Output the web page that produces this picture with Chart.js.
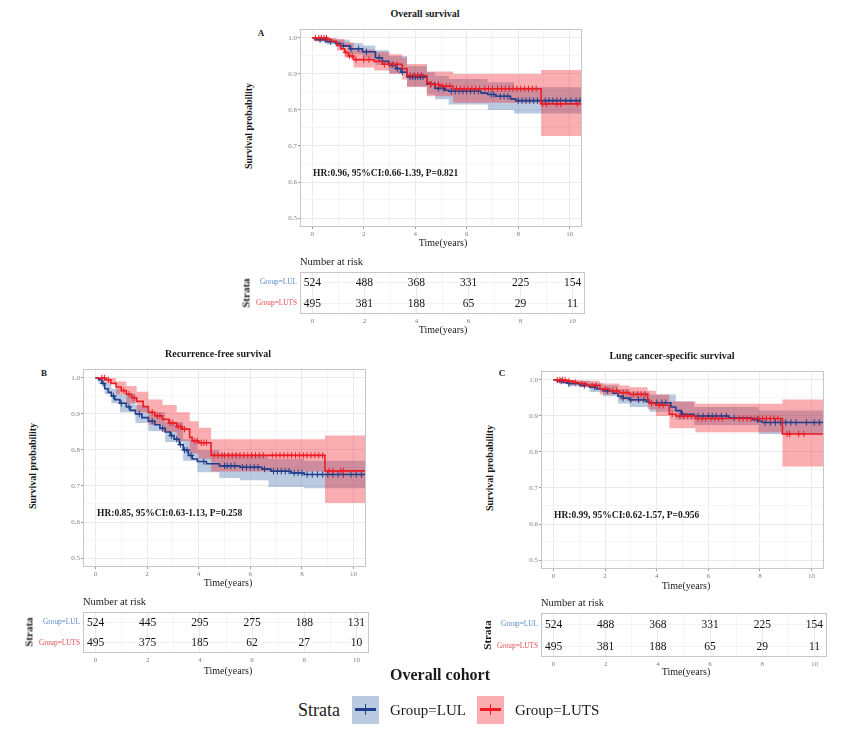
<!DOCTYPE html>
<html>
<head>
<meta charset="utf-8">
<script src="https://cdn.jsdelivr.net/npm/chart.js@4.4.0/dist/chart.umd.min.js"></script>
<style>
  body { margin: 0; width: 843px; height: 744px; background: #fff; position: relative; overflow: hidden;
         font-family: "Liberation Serif", "DejaVu Serif", serif; color: #1a1a1a; }
  canvas { position: absolute; z-index: 1; }
  .t { position: absolute; white-space: nowrap; line-height: 1; z-index: 5; }
  .c { transform: translate(-50%, -50%); }
  .l { transform: translateY(-50%); }
  .r { transform: translate(-50%, -50%) rotate(-90deg); }
  .b { font-weight: bold; }
  .key { position: absolute; width: 27px; height: 28px; z-index: 5; }
  .key .h { position: absolute; left: 3px; right: 3px; top: 12px; height: 3px; }
  .key .v { position: absolute; left: 13px; width: 1px; top: 8px; height: 11px; }
</style>
</head>
<body>

<!-- Panel A -->
<div class="t c b" style="left:425px;top:14px;font-size:10px">Overall survival</div>
<div class="t c b" style="left:261px;top:33px;font-size:9px">A</div>
<div class="t r b" style="left:249px;top:126px;font-size:10px">Survival probability</div>
<div class="t l b" style="left:313px;top:174px;font-size:9.5px">HR:0.96, 95%CI:0.66-1.39, P=0.821</div>
<div class="t c" style="left:443px;top:243px;font-size:10px">Time(years)</div>
<div class="t l" style="left:300px;top:262px;font-size:10.5px">Number at risk</div>
<div class="t r b" style="left:246px;top:293px;font-size:11px">Strata</div>
<div class="t c" style="left:443px;top:330px;font-size:10px">Time(years)</div>

<!-- Panel B -->
<div class="t c b" style="left:218px;top:354px;font-size:10px">Recurrence-free survival</div>
<div class="t c b" style="left:44px;top:373px;font-size:9px">B</div>
<div class="t r b" style="left:33px;top:466px;font-size:10px">Survival probability</div>
<div class="t l b" style="left:97px;top:514px;font-size:9.5px">HR:0.85, 95%CI:0.63-1.13, P=0.258</div>
<div class="t c" style="left:228px;top:583px;font-size:10px">Time(years)</div>
<div class="t l" style="left:83px;top:602px;font-size:10.5px">Number at risk</div>
<div class="t r b" style="left:29px;top:632px;font-size:11px">Strata</div>
<div class="t c" style="left:228px;top:671px;font-size:10px">Time(years)</div>

<!-- Panel C -->
<div class="t c b" style="left:672px;top:356px;font-size:10px">Lung cancer-specific survival</div>
<div class="t c b" style="left:502px;top:373px;font-size:9px">C</div>
<div class="t r b" style="left:490px;top:468px;font-size:10px">Survival probability</div>
<div class="t l b" style="left:554px;top:516px;font-size:9.5px">HR:0.99, 95%CI:0.62-1.57, P=0.956</div>
<div class="t c" style="left:686px;top:586px;font-size:10px">Time(years)</div>
<div class="t l" style="left:541px;top:603px;font-size:10.5px">Number at risk</div>
<div class="t r b" style="left:487px;top:635px;font-size:11px">Strata</div>
<div class="t c" style="left:686px;top:672px;font-size:10px">Time(years)</div>

<!-- Cohort title and shared legend -->
<div class="t c b" style="left:440px;top:675px;font-size:16px">Overall cohort</div>
<div class="t l" style="left:298px;top:710px;font-size:18px">Strata</div>
<div class="key" style="left:352px;top:696px;background:rgba(40,90,160,0.32)">
  <div class="h" style="background:#1F3F8C"></div><div class="v" style="background:#1F3F8C"></div>
</div>
<div class="t l" style="left:390px;top:710px;font-size:15px">Group=LUL</div>
<div class="key" style="left:477px;top:696px;background:rgba(240,30,40,0.36)">
  <div class="h" style="background:#ED1C24"></div><div class="v" style="background:#ED1C24"></div>
</div>
<div class="t l" style="left:515px;top:710px;font-size:15px">Group=LUTS</div>

<canvas id="kmA"></canvas><canvas id="riskA"></canvas>
<canvas id="kmB"></canvas><canvas id="riskB"></canvas>
<canvas id="kmC"></canvas><canvas id="riskC"></canvas>

<script>
// ---- shared axis values ----
const xTicks = [0, 2, 4, 6, 8, 10];
const yTicks = [0.5, 0.6, 0.7, 0.8, 0.9, 1.0];
const riskTimes = [0, 2, 4, 6, 8, 10];
const strata = ["Group=LUL", "Group=LUTS"];

// ---- A: overall survival ----
const osLulT = [0, 0.1, 0.55, 0.9, 1.1, 1.45, 1.95, 2.45, 2.72, 2.97, 3.25, 3.45, 3.68, 4.45, 4.77, 5.15, 5.3, 6.56, 6.82, 7.13, 7.7, 7.9, 10.45];
const osLulS = [1, 0.995, 0.99, 0.985, 0.978, 0.97, 0.962, 0.945, 0.935, 0.925, 0.915, 0.905, 0.892, 0.872, 0.86, 0.855, 0.852, 0.847, 0.843, 0.838, 0.831, 0.826, 0.826];
const osLutsT = [0, 0.6, 0.75, 0.95, 1.1, 1.25, 1.4, 1.6, 2.4, 2.72, 3.49, 3.68, 4.45, 4.6, 4.96, 5.47, 8.89, 10.45];
const osLutsS = [1, 0.995, 0.99, 0.98, 0.97, 0.96, 0.95, 0.94, 0.935, 0.927, 0.915, 0.896, 0.876, 0.871, 0.866, 0.859, 0.817, 0.817];
const osLulBandT = [0, 0.1, 0.55, 0.9, 1.45, 1.95, 2.45, 2.97, 3.68, 4.45, 4.77, 5.3, 6.82, 7.84, 10.48];
const osLulUp = [1, 1, 0.998, 0.995, 0.986, 0.979, 0.966, 0.95, 0.922, 0.905, 0.895, 0.886, 0.877, 0.863, 0.863];
const osLulLo = [1, 0.99, 0.982, 0.975, 0.955, 0.945, 0.925, 0.902, 0.865, 0.843, 0.83, 0.815, 0.8, 0.79, 0.79];
const osLutsBandT = [0, 0.6, 0.95, 1.25, 1.6, 2.4, 3.0, 3.49, 3.68, 4.45, 5.47, 8.89, 10.48];
const osLutsUp = [1, 1, 0.997, 0.988, 0.968, 0.962, 0.955, 0.945, 0.928, 0.907, 0.9, 0.911, 0.911];
const osLutsLo = [1, 0.988, 0.965, 0.945, 0.918, 0.91, 0.9, 0.885, 0.864, 0.838, 0.82, 0.728, 0.728];
const osLulCens = [0.3, 0.5, 0.7, 1.2, 1.5, 1.8, 2.1, 2.6, 3.1, 3.3, 3.5, 3.8, 3.9, 4.0, 4.1, 4.2, 4.3, 4.6, 4.9, 5.1, 5.4, 5.55, 5.7, 5.85, 6.0, 6.15, 6.3, 6.45, 6.95, 7.05, 7.3, 7.45, 7.6, 8.0, 8.15, 8.3, 8.45, 8.6, 8.75, 8.9, 9.05, 9.2, 9.35, 9.5, 9.65, 9.85, 10.05, 10.25, 10.4];
const osLutsCens = [0.12, 0.25, 0.35, 0.45, 0.55, 1.3, 1.45, 1.55, 1.7, 2.0, 2.2, 2.8, 3.0, 3.15, 3.3, 3.8, 3.95, 4.1, 4.25, 4.6, 4.75, 4.9, 5.05, 5.2, 5.35, 5.6, 5.75, 5.9, 6.05, 6.2, 6.35, 6.5, 6.7, 6.85, 7.0, 7.2, 7.35, 7.5, 7.65, 7.8, 7.95, 8.1, 8.25, 8.4, 8.55, 8.7, 8.95, 9.1, 9.5, 9.65, 10.3];
const osRiskLul = [524, 488, 368, 331, 225, 154];
const osRiskLuts = [495, 381, 188, 65, 29, 11];

// ---- B: recurrence-free survival ----
const rfsLulT = [0, 0.12, 0.25, 0.36, 0.5, 0.62, 0.75, 0.95, 1.2, 1.35, 1.55, 1.8, 2.05, 2.3, 2.5, 2.7, 2.9, 3.05, 3.25, 3.4, 3.6, 3.75, 3.95, 4.3, 4.8, 5.6, 6.45, 6.8, 7.57, 8.08, 10.45];
const rfsLulS = [1, 0.995, 0.985, 0.97, 0.96, 0.95, 0.94, 0.93, 0.92, 0.91, 0.9, 0.89, 0.88, 0.87, 0.86, 0.85, 0.84, 0.83, 0.815, 0.8, 0.785, 0.775, 0.768, 0.762, 0.756, 0.752, 0.747, 0.741, 0.736, 0.732, 0.732];
const rfsLutsT = [0, 0.4, 0.6, 0.8, 1.0, 1.2, 1.4, 1.6, 1.85, 2.05, 2.3, 2.6, 2.85, 3.15, 3.35, 3.65, 3.75, 4.0, 4.48, 8.89, 10.45];
const rfsLutsS = [1, 0.995, 0.985, 0.975, 0.965, 0.955, 0.945, 0.935, 0.92, 0.905, 0.895, 0.885, 0.875, 0.865, 0.858, 0.835, 0.825, 0.82, 0.785, 0.742, 0.742];
const rfsLulBandT = [0, 0.12, 0.36, 0.62, 0.95, 1.55, 2.05, 2.7, 3.4, 3.95, 4.8, 5.6, 6.7, 8.08, 10.48];
const rfsLulUp = [1, 1, 0.985, 0.97, 0.955, 0.925, 0.905, 0.878, 0.83, 0.8, 0.79, 0.785, 0.775, 0.77, 0.77];
const rfsLulLo = [1, 0.985, 0.955, 0.93, 0.905, 0.875, 0.853, 0.822, 0.77, 0.738, 0.722, 0.716, 0.697, 0.694, 0.694];
const rfsLutsBandT = [0, 0.4, 0.8, 1.2, 1.6, 2.05, 2.6, 3.15, 3.65, 4.0, 4.48, 8.89, 10.48];
const rfsLutsUp = [1, 1, 0.99, 0.978, 0.962, 0.94, 0.925, 0.905, 0.88, 0.862, 0.83, 0.84, 0.84];
const rfsLutsLo = [1, 0.985, 0.955, 0.93, 0.905, 0.87, 0.85, 0.825, 0.79, 0.776, 0.74, 0.653, 0.653];
const rfsLulCens = [0.3, 0.7, 1.0, 1.3, 1.7, 2.2, 2.6, 2.95, 3.15, 3.3, 3.45, 3.55, 3.7, 4.2, 5.0, 5.1, 5.25, 5.4, 5.7, 5.85, 6.0, 6.15, 6.3, 6.55, 6.9, 7.05, 7.2, 7.35, 7.5, 7.7, 7.85, 8.0, 8.2, 8.4, 8.6, 8.8, 9.0, 9.2, 9.4, 9.6, 9.9, 10.1, 10.3];
const rfsLutsCens = [0.25, 0.35, 0.5, 1.1, 1.3, 1.5, 2.2, 2.4, 2.5, 2.9, 3.0, 3.2, 3.3, 3.45, 3.85, 3.95, 4.1, 4.2, 4.3, 4.6, 4.75, 4.9, 5.0, 5.15, 5.3, 5.45, 5.6, 5.75, 5.9, 6.05, 6.2, 6.35, 6.5, 6.85, 7.0, 7.15, 7.3, 7.45, 7.6, 7.75, 7.9, 8.05, 8.2, 8.35, 8.5, 8.65, 8.8, 9.05, 9.2, 9.5, 9.6];
const rfsRiskLul = [524, 445, 295, 275, 188, 131];
const rfsRiskLuts = [495, 375, 185, 62, 27, 10];

// ---- C: lung cancer-specific survival ----
const lcssLulT = [0, 0.15, 0.38, 0.6, 1.03, 1.4, 1.67, 1.92, 2.3, 2.5, 2.7, 2.95, 3.6, 3.72, 4.55, 4.74, 4.95, 5.45, 6.8, 7.7, 7.95, 8.1, 10.45];
const lcssLulS = [1, 0.997, 0.993, 0.99, 0.985, 0.98, 0.975, 0.97, 0.963, 0.955, 0.95, 0.945, 0.94, 0.937, 0.925, 0.915, 0.905, 0.9, 0.895, 0.89, 0.885, 0.882, 0.882];
const lcssLutsT = [0, 0.5, 0.77, 1.0, 1.28, 1.8, 2.18, 2.56, 2.95, 3.65, 3.72, 3.97, 4.49, 4.74, 5.5, 8.87, 10.45];
const lcssLutsS = [1, 0.997, 0.993, 0.99, 0.985, 0.975, 0.97, 0.965, 0.96, 0.945, 0.935, 0.93, 0.905, 0.9, 0.893, 0.85, 0.85];
const lcssLulBandT = [0, 0.15, 0.6, 1.4, 1.92, 2.5, 2.95, 3.72, 4.74, 5.45, 7.95, 10.48];
const lcssLulUp = [1, 1, 0.998, 0.992, 0.985, 0.975, 0.968, 0.96, 0.94, 0.925, 0.915, 0.915];
const lcssLulLo = [1, 0.99, 0.982, 0.967, 0.955, 0.935, 0.925, 0.912, 0.89, 0.875, 0.85, 0.85];
const lcssLutsBandT = [0, 0.5, 1.0, 1.8, 2.56, 2.95, 3.65, 3.97, 4.49, 5.5, 8.87, 10.48];
const lcssLutsUp = [1, 1, 0.998, 0.99, 0.985, 0.98, 0.97, 0.96, 0.94, 0.934, 0.946, 0.946];
const lcssLutsLo = [1, 0.99, 0.98, 0.96, 0.945, 0.94, 0.918, 0.9, 0.866, 0.855, 0.76, 0.76];
const lcssLulCens = [0.3, 0.6, 1.2, 1.6, 2.1, 2.7, 3.0, 3.3, 3.5, 4.0, 4.2, 4.35, 5.0, 5.6, 5.8, 6.0, 6.15, 6.3, 6.5, 6.7, 7.0, 7.9, 8.2, 8.4, 8.6, 8.8, 9.0, 9.2, 9.4, 9.8, 10.1, 10.3];
const lcssLutsCens = [0.15, 0.25, 0.35, 0.45, 0.6, 0.85, 1.1, 1.5, 1.65, 2.0, 2.3, 2.45, 2.7, 2.85, 3.1, 3.25, 3.4, 3.55, 3.8, 4.1, 4.25, 4.6, 4.9, 5.05, 5.2, 5.35, 5.6, 5.75, 5.9, 6.1, 6.25, 6.4, 6.55, 7.2, 7.35, 7.5, 7.65, 7.8, 7.95, 8.1, 8.25, 8.4, 8.55, 8.7, 9.05, 9.15, 9.5, 9.7];
const lcssRiskLul = [524, 488, 368, 331, 225, 154];
const lcssRiskLuts = [495, 381, 188, 65, 29, 11];

// ---- styles ----
const serif = "'Liberation Serif', 'DejaVu Serif', serif";
const blueLine = "#1F3F8C", redLine = "#ED1C24";
const blueFill = "rgba(40,90,160,0.32)", redFill = "rgba(240,30,40,0.36)";
const X_MIN = -0.48, X_MAX = 10.48, Y_MIN = 0.475, Y_MAX = 1.025;

function pts(ts, ys) { return ts.map((t, i) => ({ x: t, y: ys[i] })); }

// survival value of a step curve at time x (for placing censor marks)
function survAt(ts, ss, x) {
  let v = ss[0];
  for (let i = 0; i < ts.length; i++) if (ts[i] <= x) v = ss[i];
  return v;
}

const isMajorX = v => xTicks.includes(v);
const isMajorY = v => yTicks.some(m => Math.abs(m - v) < 1e-6);

const boxPlugin = {
  id: "panelBox",
  afterDatasetsDraw(chart) {
    const a = chart.chartArea, c = chart.ctx;
    c.save();
    c.strokeStyle = "#C6C6C6";
    c.lineWidth = 1;
    c.strokeRect(Math.round(a.left) + 0.5, Math.round(a.top) + 0.5,
                 Math.round(a.right - a.left) - 1, Math.round(a.bottom - a.top) - 1);
    c.restore();
  }
};

function xAxis(h, withTicks) {
  return {
    type: "linear", min: X_MIN, max: X_MAX,
    afterBuildTicks: s => { s.ticks = [0, 1, 2, 3, 4, 5, 6, 7, 8, 9, 10].map(v => ({ value: v })); },
    ticks: { callback: v => isMajorX(v) ? String(v) : "", autoSkip: false, maxRotation: 0,
             font: { family: serif, size: 7 }, color: "#808080", padding: withTicks ? 1 : 3 },
    grid: { color: c => isMajorX(c.tick.value) ? "#EAEAEA" : "#F5F5F5",
            drawTicks: withTicks, tickLength: 2,
            tickColor: c => isMajorX(c.tick.value) ? "#9A9A9A" : "rgba(0,0,0,0)" },
    border: { display: false },
    afterFit: s => { s.height = h; s.paddingLeft = 0; s.paddingRight = 0; }
  };
}

function place(id, left, top, w, h) {
  const cv = document.getElementById(id);
  cv.width = w; cv.height = h;
  cv.style.left = left + "px"; cv.style.top = top + "px";
  cv.style.width = w + "px"; cv.style.height = h + "px";
  return cv;
}

function kmChart(id, box, lul, luts) {
  const yW = 32, xH = 16;
  const cv = place(id, box.L - yW, box.T - 2, yW + (box.R - box.L) + 2, 2 + (box.B - box.T) + xH);
  const line = (data, color) => ({ data, showLine: true, stepped: true, borderColor: color,
                                   borderWidth: 1.6, pointRadius: 0, fill: false });
  const cens = (c, color) => ({ data: c.cens.map(t => ({ x: t, y: survAt(c.t, c.s, t) })),
                               showLine: false, pointStyle: "cross", pointRadius: 3.2,
                               borderColor: color, borderWidth: 1, backgroundColor: color });
  const band = (data, fill, color) => ({ data, showLine: true, stepped: true, borderWidth: 0,
                                         pointRadius: 0, fill, backgroundColor: color, borderColor: "rgba(0,0,0,0)" });
  new Chart(cv, {
    type: "scatter",
    data: {
      datasets: [
        cens(luts, redLine),
        line(pts(luts.t, luts.s), redLine),
        cens(lul, blueLine),
        line(pts(lul.t, lul.s), blueLine),
        band(pts(luts.bt, luts.up), "+1", redFill),
        band(pts(luts.bt, luts.lo), false, redFill),
        band(pts(lul.bt, lul.up), "+1", blueFill),
        band(pts(lul.bt, lul.lo), false, blueFill)
      ]
    },
    options: {
      responsive: false, animation: false, events: [],
      layout: { padding: { top: 2, right: 2 } },
      plugins: { legend: { display: false }, tooltip: { enabled: false },
                 filler: { drawTime: "beforeDatasetsDraw" } },
      scales: {
        x: xAxis(xH, true),
        y: {
          type: "linear", min: Y_MIN, max: Y_MAX,
          afterBuildTicks: s => {
            const t = [];
            for (let k = 0; k <= 10; k++) t.push({ value: +(0.5 + k * 0.05).toFixed(2) });
            s.ticks = t;
          },
          ticks: { callback: v => isMajorY(v) ? v.toFixed(1) : "", autoSkip: false,
                   font: { family: serif, size: 7 }, color: "#808080", padding: 1 },
          grid: { color: c => isMajorY(c.tick.value) ? "#EAEAEA" : "#F5F5F5",
                  tickLength: 2,
                  tickColor: c => isMajorY(c.tick.value) ? "#9A9A9A" : "rgba(0,0,0,0)" },
          border: { display: false },
          afterFit: s => { s.width = yW; s.paddingTop = 0; s.paddingBottom = 0; }
        }
      }
    },
    plugins: [boxPlugin]
  });
}

const riskText = {
  id: "riskText",
  afterDatasetsDraw(chart) {
    const c = chart.ctx;
    c.save();
    c.font = "11.5px " + serif;
    c.fillStyle = "#111";
    c.textAlign = "center";
    c.textBaseline = "middle";
    chart.data.datasets.forEach((ds, di) => {
      chart.getDatasetMeta(di).data.forEach((el, i) => c.fillText(String(ds.data[i].n), el.x, el.y + 0.5));
    });
    c.restore();
  }
};

function riskChart(id, box, lulN, lutsN) {
  const yW = 62, xH = 14;
  const cv = place(id, box.L - yW, box.T - 2, yW + (box.R - box.L) + 2, 2 + (box.B - box.T) + xH);
  const row = (ns, k) => ({ data: riskTimes.map((t, i) => ({ x: t, y: strata[k], n: ns[i] })),
                            pointRadius: 0, showLine: false });
  new Chart(cv, {
    type: "scatter",
    data: { datasets: [row(lulN, 0), row(lutsN, 1)] },
    options: {
      responsive: false, animation: false, events: [],
      layout: { padding: { top: 2, right: 2 } },
      plugins: { legend: { display: false }, tooltip: { enabled: false } },
      scales: {
        x: xAxis(xH, false),
        y: {
          type: "category", labels: strata, offset: true,
          ticks: { font: { family: serif, size: 7.3 }, padding: 3,
                   color: c => c.index === 0 ? "#5A8AC6" : "#E84A4F" },
          grid: { offset: false, color: "#F2F2F2", drawTicks: false },
          border: { display: false },
          afterFit: s => { s.width = yW; s.paddingTop = 0; s.paddingBottom = 0; }
        }
      }
    },
    plugins: [boxPlugin, riskText]
  });
}

// ---- build the three panels ----
kmChart("kmA", { L: 300, R: 585, T: 26, B: 227 },
  { t: osLulT, s: osLulS, bt: osLulBandT, up: osLulUp, lo: osLulLo, cens: osLulCens },
  { t: osLutsT, s: osLutsS, bt: osLutsBandT, up: osLutsUp, lo: osLutsLo, cens: osLutsCens });
riskChart("riskA", { L: 300, R: 585, T: 272, B: 314 }, osRiskLul, osRiskLuts);

kmChart("kmB", { L: 83, R: 369, T: 366, B: 567 },
  { t: rfsLulT, s: rfsLulS, bt: rfsLulBandT, up: rfsLulUp, lo: rfsLulLo, cens: rfsLulCens },
  { t: rfsLutsT, s: rfsLutsS, bt: rfsLutsBandT, up: rfsLutsUp, lo: rfsLutsLo, cens: rfsLutsCens });
riskChart("riskB", { L: 83, R: 369, T: 612, B: 653 }, rfsRiskLul, rfsRiskLuts);

kmChart("kmC", { L: 541, R: 827, T: 368, B: 569 },
  { t: lcssLulT, s: lcssLulS, bt: lcssLulBandT, up: lcssLulUp, lo: lcssLulLo, cens: lcssLulCens },
  { t: lcssLutsT, s: lcssLutsS, bt: lcssLutsBandT, up: lcssLutsUp, lo: lcssLutsLo, cens: lcssLutsCens });
riskChart("riskC", { L: 541, R: 827, T: 613, B: 657 }, lcssRiskLul, lcssRiskLuts);
</script>
</body>
</html>
